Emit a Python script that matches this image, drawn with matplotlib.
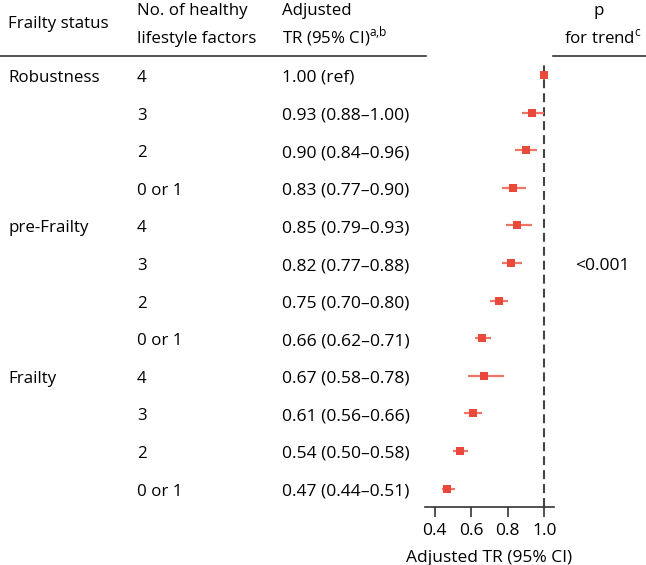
import matplotlib
matplotlib.use("Agg")
import matplotlib.pyplot as plt
from matplotlib.lines import Line2D

plt.rcParams['font.family'] = ['Open Sans', 'DejaVu Sans']

# data
status = ['Robustness', '', '', '', 'pre-Frailty', '', '', '', 'Frailty', '', '', '']
factors = ['4', '3', '2', '0 or 1'] * 3
tr = [1.00, 0.93, 0.90, 0.83, 0.85, 0.82, 0.75, 0.66, 0.67, 0.61, 0.54, 0.47]
lo = [1.00, 0.88, 0.84, 0.77, 0.79, 0.77, 0.70, 0.62, 0.58, 0.56, 0.50, 0.44]
hi = [1.00, 1.00, 0.96, 0.90, 0.93, 0.88, 0.80, 0.71, 0.78, 0.66, 0.58, 0.51]
tr_labels = ['1.00 (ref)', '0.93 (0.88\u20131.00)', '0.90 (0.84\u20130.96)', '0.83 (0.77\u20130.90)',
             '0.85 (0.79\u20130.93)', '0.82 (0.77\u20130.88)', '0.75 (0.70\u20130.80)', '0.66 (0.62\u20130.71)',
             '0.67 (0.58\u20130.78)', '0.61 (0.56\u20130.66)', '0.54 (0.50\u20130.58)', '0.47 (0.44\u20130.51)']
p_trend = '<0.001'
xticks = [0.4, 0.6, 0.8, 1.0]

W, H = 646, 565
fig = plt.figure(figsize=(W / 100, H / 100), dpi=100)

# forest axes in pixel layout
left, right, top, bottom = 425, 554, 63, 506.7
ax = fig.add_axes([left / W, 1 - bottom / H, (right - left) / W, (bottom - top) / H])
n = len(tr)
row0, step = 75, 37.6
ax.set_ylim((bottom - row0) / step, (top - row0) / step)
ax.set_xlim(0.4 - 9.7 / 182.7, 1.0 + 9.7 / 182.7)

red = '#e8493b'
ys = list(range(n))
for i in ys:
    ax.plot([lo[i], hi[i]], [i, i], color='#f07566', lw=1.6, solid_capstyle='butt', zorder=2)
ax.scatter(tr, ys, marker='s', s=40, color=red, zorder=3, linewidths=0)
ax.axvline(1.0, color='#444444', lw=1.5, ls=(0, (4.3, 2.4)), zorder=1)

for s in ['top', 'right', 'left']:
    ax.spines[s].set_visible(False)
ax.spines['bottom'].set_color('#333333')
ax.spines['bottom'].set_linewidth(1.2)
ax.set_yticks([])
ax.set_xticks(xticks)
ax.set_xticklabels(['0.4', '0.6', '0.8', '1.0'], fontsize=12.5)
ax.tick_params(axis='x', length=7, width=1.2, color='#333333', pad=4.5)
ax.set_xlabel('Adjusted TR (95% CI)', fontsize=12.5, labelpad=8)

fs = 12.2


def ftxt(x, y, s, size=fs, **kw):
    # x, y in pixels from top-left, y is text baseline
    fig.text(x / W, 1 - y / H, s, fontsize=size, va='baseline', **kw)


# table rows
for i in ys:
    yb = row0 + step * i + 7
    if status[i]:
        ftxt(8, yb, status[i], ha='left')
    ftxt(137, yb, factors[i], ha='left')
    ftxt(282, yb, tr_labels[i], ha='left', size=12.6)
ftxt(602, row0 + step * 5 + 7, p_trend, ha='center', size=12.6)

# header
ftxt(8, 28, 'Frailty status', ha='left')
ftxt(137, 15, 'No. of healthy', ha='left')
ftxt(137, 43, 'lifestyle factors', ha='left')
ftxt(282, 15, 'Adjusted', ha='left')
ftxt(282, 43, 'TR (95% CI)$^{\\mathregular{a{,}b}}$', ha='left')
ftxt(599, 15, 'p', ha='center')
ftxt(603, 43, 'for trend$^{\\mathregular{c}}$', ha='center')

fig.add_artist(Line2D([0, 425.7 / W], [1 - 55.7 / H] * 2, color='#333333', lw=1.2))
fig.add_artist(Line2D([553 / W, 1], [1 - 55.7 / H] * 2, color='#333333', lw=1.2))

fig.savefig('out.png', dpi=100)
